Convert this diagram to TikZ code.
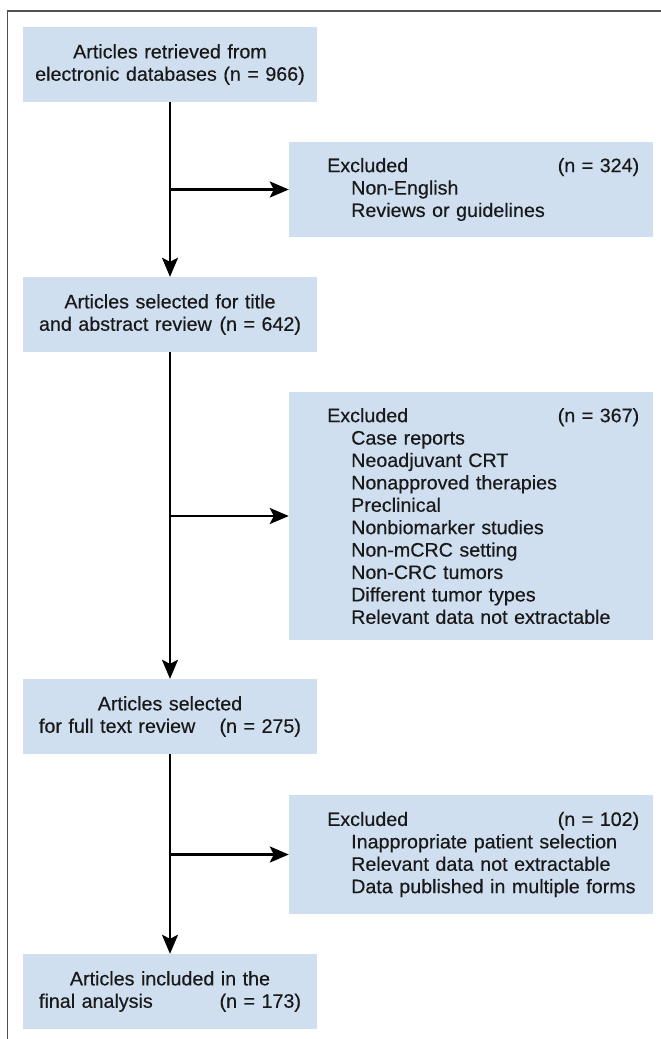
\documentclass[tikz,border=0pt]{standalone}
\usepackage{fontspec}
\setmainfont{Liberation Sans}[FakeStretch=1.01,FakeBold=0.4]
\usetikzlibrary{arrows.meta}
\definecolor{boxblue}{RGB}{207,223,240}
\definecolor{framegray}{RGB}{80,80,80}
\definecolor{textgray}{RGB}{25,25,25}
\newcommand{\figfont}{\fontsize{19.5}{22.4}\selectfont}
\begin{document}
\begin{tikzpicture}[x=1pt,y=1pt,
  mainbox/.style={fill=boxblue, draw=none, minimum width=294pt, minimum height=75pt,
    text width=262pt, align=center, inner sep=0pt, font=\figfont, text=textgray},
  exbox/.style={fill=boxblue, draw=none, minimum width=364pt, inner sep=0pt},
  extext/.style={anchor=west, text width=312pt, align=left, inner sep=0pt, font=\figfont, text=textgray},
  arr/.style={line width=2.5pt, -{Stealth[length=19pt,width=16pt,inset=4pt]}},
  framestyle/.style={draw=framegray, line width=1.6pt}]
\useasboundingbox (0,0) rectangle (661,-1039);

% frame
\coordinate (fbl) at (7.5,-1039);
\coordinate (ftl) at (7.5,-11);
\coordinate (ftr) at (661,-11);
\draw[framestyle] (fbl) -- (ftl) -- (ftr);

% main boxes
\node[mainbox, text width=270pt] (b1) at (170,-64.5) {Articles retrieved from\\electronic databases (n = 966)};
\node[mainbox] (b2) at (170,-314.5) {Articles selected for title\\and abstract review \hfill(n = 642)};
\node[mainbox] (b3) at (170,-716.5) {Articles selected\\for full text review \hfill(n = 275)};
\node[mainbox] (b4) at (170,-991.5) {Articles included in the\\final analysis \hfill(n = 173)};

% exclusion boxes
\node[exbox, minimum height=95pt] (ex1) at (471,-189.5) {};
\node[extext] (ex1t) at (327,-189.5) {Excluded\hfill(n = 324)\\
\hspace*{24pt}Non-English\\
\hspace*{24pt}Reviews or guidelines};

\node[exbox, minimum height=248pt] (ex2) at (471,-516) {};
\node[extext] (ex2t) at (327,-516) {Excluded\hfill(n = 367)\\
\hspace*{24pt}Case reports\\
\hspace*{24pt}Neoadjuvant CRT\\
\hspace*{24pt}Nonapproved therapies\\
\hspace*{24pt}Preclinical\\
\hspace*{24pt}Nonbiomarker studies\\
\hspace*{24pt}Non-mCRC setting\\
\hspace*{24pt}Non-CRC tumors\\
\hspace*{24pt}Different tumor types\\
\hspace*{24pt}Relevant data not extractable};

\node[exbox, minimum height=119pt] (ex3) at (471,-854.5) {};
\node[extext] (ex3t) at (327,-854.5) {Excluded\hfill(n = 102)\\
\hspace*{24pt}Inappropriate patient selection\\
\hspace*{24pt}Relevant data not extractable\\
\hspace*{24pt}Data published in multiple forms};

% connectors
\draw[arr] (b1.south) -- (b2.north);
\draw[arr] (b2.south) -- (b3.north);
\draw[arr] (b3.south) -- (b4.north);
\draw[arr] (b1.south |- ex1.west) -- (ex1.west);
\draw[arr] (b2.south |- ex2.west) -- (ex2.west);
\draw[arr] (b3.south |- ex3.west) -- (ex3.west);
\end{tikzpicture}
\end{document}
